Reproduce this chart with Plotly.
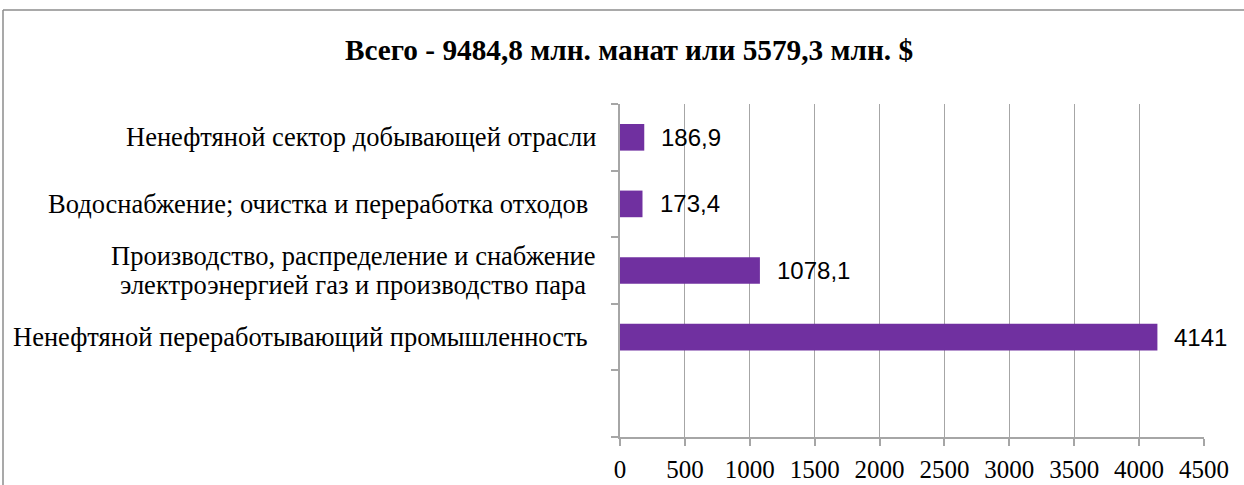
import plotly.graph_objects as go

# Data (top to bottom in the chart)
categories = [
    "Ненефтяной сектор добывающей отрасли",
    "Водоснабжение; очистка и переработка отходов",
    "Производство, распределение и снабжение<br>электроэнергией газ и производство пара",
    "Ненефтяной переработывающий промышленность",
]
values = [186.9, 173.4, 1078.1, 4141]
value_labels = ["186,9", "173,4", "1078,1", "4141"]
empty_slot = " "
x_ticks = [0, 500, 1000, 1500, 2000, 2500, 3000, 3500, 4000, 4500]
title_text = "Всего - 9484,8 млн. манат или 5579,3 млн. $"

W, H = 1244, 485
L, R, T, B = 620, 40, 104, 48
pw, ph = W - L - R, H - T - B

bar_color = "#7030A0"
grid_color = "#A6A6A6"
serif = "Liberation Serif, Times New Roman, serif"
sans = "Liberation Sans, Arial, sans-serif"

fig = go.Figure()
fig.add_trace(go.Bar(
    x=values, y=categories, orientation="h",
    marker=dict(color=bar_color, line=dict(width=0)),
    width=0.4, showlegend=False, hoverinfo="x+y",
))
# ensure the empty slot category exists
fig.add_trace(go.Bar(x=[None], y=[empty_slot], orientation="h", showlegend=False,
                     marker=dict(color=bar_color), hoverinfo="skip"))

# value labels
for v, c, t in zip(values, categories, value_labels):
    fig.add_annotation(
        x=v, y=c, text=t, showarrow=False, xanchor="left", yanchor="middle",
        xshift=15, font=dict(family=sans, size=24, color="#000"),
    )

# category labels (drawn as text next to the axis, tight line spacing)
label_shift = {0: 0, 1: -8, 3: -8}
for i, c in enumerate(categories):
    lines = c.split("<br>")
    if len(lines) == 1:
        fig.add_annotation(
            x=0, y=c, text=c, showarrow=False, xanchor="right", yanchor="middle",
            xshift=-22 + label_shift.get(i, 0), font=dict(family=serif, size=26.5, color="#000"),
        )
    else:
        n = len(lines)
        gap = 29.5
        for k, ln in enumerate(lines):
            fig.add_annotation(
                x=0, y=c, text=ln, showarrow=False, xanchor="right", yanchor="middle",
                xshift=-22 - 10 * k, yshift=(n - 1) / 2 * gap - k * gap,
                font=dict(family=serif, size=26.5, color="#000"),
            )

def px_x(px):
    return (px - L) / pw

def px_y(py):
    return (H - B - py) / ph

# outer frame (left and top border of chart area)
frame_color = "#8C8C8C"
fig.add_shape(type="line", xref="paper", yref="paper",
              x0=px_x(3), x1=px_x(3), y0=px_y(490), y1=px_y(10),
              line=dict(color=frame_color, width=1.5))
fig.add_shape(type="line", xref="paper", yref="paper",
              x0=px_x(3), x1=px_x(1250), y0=px_y(10), y1=px_y(10),
              line=dict(color=frame_color, width=1.5))

fig.update_layout(
    width=W, height=H,
    margin=dict(l=L, r=R, t=T, b=B, pad=0, autoexpand=False),
    paper_bgcolor="white", plot_bgcolor="white",
    title=dict(text=f"<b>{title_text}</b>", x=629 / W, xanchor="center",
               y=1 - 50 / H, yanchor="middle", automargin=False,
               font=dict(family=serif, size=29.3, color="#000")),
    xaxis=dict(
        range=[0, 4500], tickvals=x_ticks, ticktext=[str(v) for v in x_ticks],
        showgrid=True, gridcolor=grid_color, gridwidth=1,
        showline=True, linecolor=grid_color, linewidth=1.5,
        ticks="outside", ticklen=7, tickcolor=grid_color, tickwidth=1.5,
        tickfont=dict(family=serif, size=25, color="#000"),
        ticklabelstandoff=2, automargin=False,
        zeroline=False, fixedrange=True,
    ),
    yaxis=dict(
        type="category",
        categoryorder="array",
        categoryarray=[empty_slot] + categories[::-1],
        range=[-0.5, 4.5],
        tickson="boundaries",
        showgrid=False,
        showticklabels=False,
        showline=True, linecolor=grid_color, linewidth=1.5,
        ticks="outside", ticklen=7, tickcolor=grid_color, tickwidth=1.5,
        automargin=False, fixedrange=True,
    ),
)

fig.write_html("out.html", config={"displayModeBar": False},
               post_script="document.body.style.margin='0';")
